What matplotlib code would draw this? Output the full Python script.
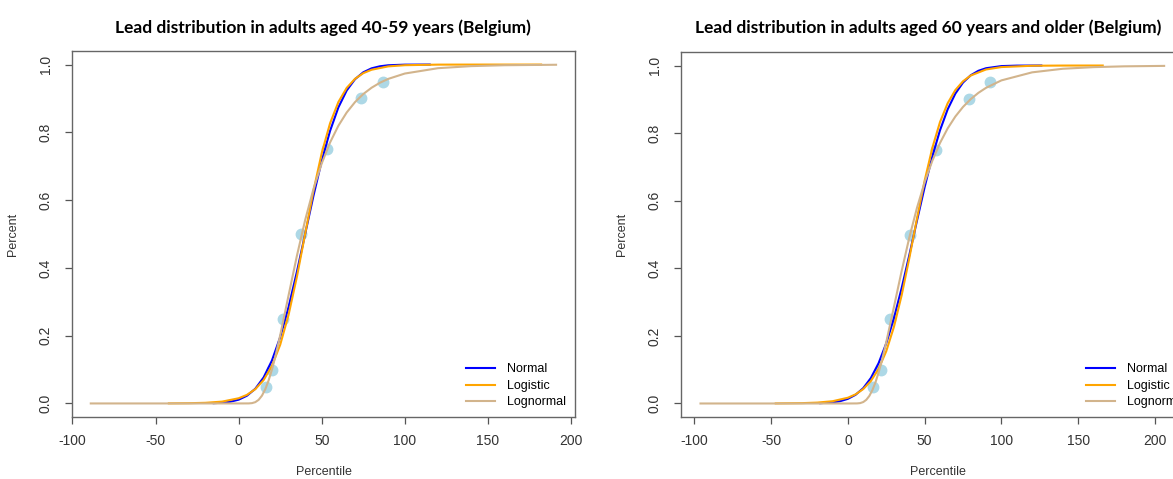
import matplotlib
matplotlib.use("Agg")
import matplotlib.pyplot as plt

# Fitted CDFs (x = lead level, y = cumulative share)

# Panel 1: adults aged 40-59
norm1_x = [-15, -10, -5, 0, 5, 10, 15, 20, 25, 30, 35, 40, 45, 50, 55, 60,
           65, 70, 75, 80, 85, 90, 100, 115]
norm1_y = [0.0008, 0.0021, 0.0051, 0.0111, 0.0228, 0.0433, 0.0766, 0.1265,
           0.1957, 0.2839, 0.3875, 0.5, 0.6125, 0.7161, 0.8043, 0.8735,
           0.9234, 0.9567, 0.9772, 0.9889, 0.9949, 0.9979, 0.9997, 1.0]

logis1_x = [-42, -30, -20, -10, 0, 5, 10, 15, 20, 25, 30, 35, 40, 45, 50, 55,
            60, 65, 70, 75, 80, 90, 100, 120, 150, 182]
logis1_y = [0.0002, 0.0007, 0.0019, 0.0054, 0.0153, 0.0254, 0.0421, 0.0689,
            0.1107, 0.1733, 0.2608, 0.3727, 0.5, 0.6273, 0.7392, 0.8267,
            0.8893, 0.9311, 0.9579, 0.9746, 0.9847, 0.9946, 0.9981, 0.9998,
            1.0, 1.0]

lnorm1_x = [-89, 0, 6, 8, 10, 12, 14, 16, 18, 20, 22, 25, 30, 35, 40, 45, 50,
            55, 60, 65, 70, 75, 80, 85, 90, 100, 120, 140, 160, 191]
lnorm1_y = [0.0, 0.0, 0.0001, 0.0009, 0.0038, 0.0106, 0.0229, 0.0418, 0.0676,
            0.0996, 0.1372, 0.2012, 0.3182, 0.4346, 0.5409, 0.6325, 0.7085,
            0.7701, 0.8194, 0.8585, 0.8891, 0.9131, 0.9317, 0.9463, 0.9577,
            0.9735, 0.9893, 0.9954, 0.9980, 0.9994]

pts1_x = [16.3, 20.0, 26.8, 37.6, 53.3, 73.8, 86.7]

# Panel 2: adults aged 60 and older
norm2_x = [-18, -10, -5, 0, 5, 10, 15, 20, 25, 30, 35, 40, 45, 50, 55, 60,
           65, 70, 75, 80, 85, 90, 100, 110, 126]
norm2_y = [0.0009, 0.0033, 0.0069, 0.0137, 0.0257, 0.0453, 0.0755, 0.1192,
           0.1780, 0.2525, 0.3409, 0.4388, 0.5409, 0.6402, 0.7308, 0.8083,
           0.8704, 0.9169, 0.9496, 0.9711, 0.9844, 0.9920, 0.9983, 0.9997,
           1.0]

logis2_x = [-47, -30, -20, -10, 0, 5, 10, 15, 20, 25, 30, 35, 40, 45, 50, 55,
            60, 65, 70, 75, 80, 90, 100, 120, 140, 166]
logis2_y = [0.0002, 0.0010, 0.0026, 0.0067, 0.0170, 0.0270, 0.0426, 0.0665,
            0.1025, 0.1547, 0.2268, 0.3198, 0.4297, 0.5472, 0.6593, 0.7562,
            0.8326, 0.8884, 0.9274, 0.9534, 0.9704, 0.9883, 0.9954, 0.9993,
            0.9999, 1.0]

lnorm2_x = [-96, 0, 6, 8, 10, 12, 14, 16, 18, 20, 22, 25, 30, 35, 40, 45, 50,
            55, 60, 65, 70, 75, 80, 85, 90, 100, 120, 140, 160, 180, 206]
lnorm2_y = [0.0, 0.0, 0.0002, 0.0011, 0.0042, 0.0109, 0.0225, 0.0399, 0.0630,
            0.0916, 0.1247, 0.1814, 0.2857, 0.3915, 0.4907, 0.5788, 0.6545,
            0.7182, 0.7708, 0.8140, 0.8491, 0.8775, 0.9005, 0.9191, 0.9340,
            0.9560, 0.9798, 0.9904, 0.9952, 0.9976, 0.9989]

pts2_x = [16.2, 21.3, 27.3, 40.4, 57.6, 79.2, 92.3]

pts_y = [0.05, 0.10, 0.25, 0.50, 0.75, 0.90, 0.95]

titles = ["Lead distribution in adults aged 40-59 years (Belgium)",
          "Lead distribution in adults aged 60 years and older (Belgium)"]
legend_labels = ["Normal", "Logistic", "Lognormal"]
xticks = [-100, -50, 0, 50, 100, 150, 200]
yticks = [0.0, 0.2, 0.4, 0.6, 0.8, 1.0]

plt.rcParams['font.family'] = ['Liberation Sans', 'DejaVu Sans']

W, H = 1173, 479
fig = plt.figure(figsize=(W / 100, H / 100), dpi=100)


def px_axes(left, top, right, bottom):
    return fig.add_axes([left / W, 1 - bottom / H, (right - left) / W,
                         (bottom - top) / H])


panels = [
    (px_axes(72, 51, 575, 417), (-100.3, 202.4), 323,
     (norm1_x, norm1_y), (logis1_x, logis1_y), (lnorm1_x, lnorm1_y), pts1_x),
    (px_axes(681, 52, 1195, 417), (-108.7, 226.1), 928,
     (norm2_x, norm2_y), (logis2_x, logis2_y), (lnorm2_x, lnorm2_y), pts2_x),
]

for i, (ax, xlim, title_x, norm, logis, lnorm, pts_x) in enumerate(panels):
    ax.plot(pts_x, pts_y, 'o', color='#add8e6', markersize=7.5, zorder=1)
    ax.plot(norm[0], norm[1], color='#0000ff', lw=1.5, label=legend_labels[0], zorder=2)
    ax.plot(logis[0], logis[1], color='#ffa500', lw=1.5, label=legend_labels[1], zorder=3)
    ax.plot(lnorm[0], lnorm[1], color='#d2b48c', lw=1.5, label=legend_labels[2], zorder=4)

    ax.set_xlim(xlim)
    ax.set_ylim(-0.04, 1.04)
    ax.set_xticks(xticks)
    ax.set_yticks(yticks)
    ax.set_xticklabels([str(t) for t in xticks])
    ax.set_yticklabels(["%.1f" % t for t in yticks], rotation=90, va='center')
    ax.tick_params(length=5, width=0.9, color='#555555', labelcolor='#333333',
                   labelsize=10, pad=7)
    ax.tick_params(axis='y', pad=9)
    for s in ax.spines.values():
        s.set_color('#666666')
        s.set_linewidth(1.0)

    ax.set_xlabel("Percentile", fontsize=9, color='#333333', labelpad=13)
    ax.set_ylabel("Percent", fontsize=9, color='#333333', labelpad=14)

    ax.legend(loc='lower right', bbox_to_anchor=(1.0, 0.0), frameon=False,
              fontsize=9, handlelength=2.3, handletextpad=1.0,
              labelspacing=0.35, borderaxespad=0.3)

    fig.text(title_x / W, 1 - 28 / H, titles[i], ha='center', va='center',
             fontsize=12.5, fontweight='bold', family=['Lato', 'DejaVu Sans'])

fig.savefig("out.png", dpi=100)
